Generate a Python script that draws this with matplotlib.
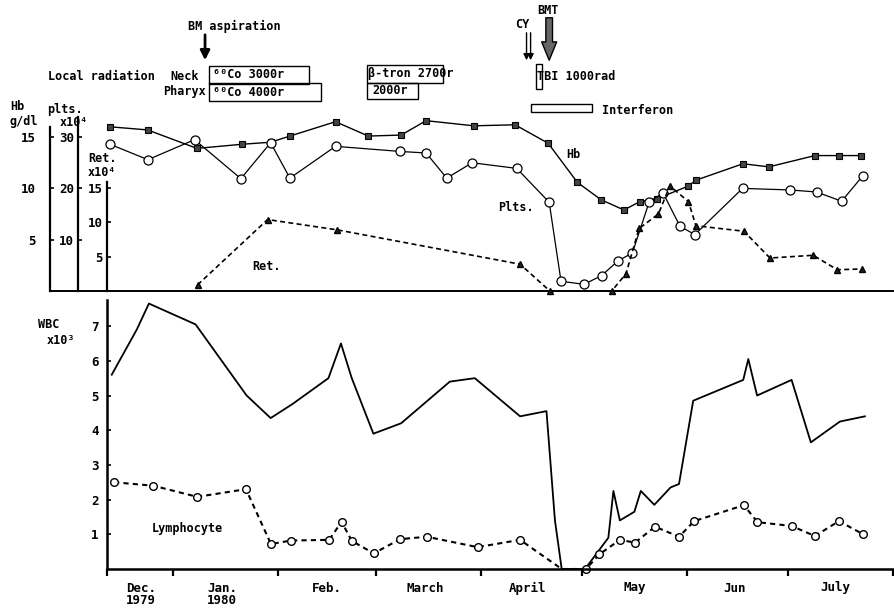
"""Clinical course chart: Hb / platelets / reticulocytes (top) and WBC / lymphocytes (bottom)."""

import matplotlib

matplotlib.use("Agg")
import matplotlib.pyplot as plt  # noqa: E402
from matplotlib.patches import Rectangle  # noqa: E402
from matplotlib.transforms import blended_transform_factory  # noqa: E402

# x values are days counted from 1 Jan 1980 (negative = Dec 1979)
HB_DAYS = [-18.5, -7.5, 7.1, 20.4, 28.9, 34.6, 48.1, 57.8, 67.5, 74.9, 89.0, 101.2, 111.0,
           119.6, 126.6, 133.4, 138.1, 143.2, 152.3, 154.7, 168.6, 176.3, 189.9, 197.0, 203.5]
HB = [16.0, 15.7, 13.9, 14.3, 14.5, 15.1, 16.5, 15.1, 15.2, 16.6, 16.1, 16.2, 14.4,
      10.6, 8.9, 7.9, 8.7, 9.0, 10.2, 10.8, 12.4, 12.1, 13.2, 13.2, 13.2]

PLT_DAYS = [-18.6, -7.4, 6.4, 20.1, 28.9, 34.6, 48.1, 67.3, 74.9, 81.0, 88.5, 101.7, 111.3,
            114.8, 121.6, 126.8, 131.7, 135.9, 140.9, 145.0, 150.0, 154.4, 168.5, 182.5,
            190.4, 197.8, 204.0]
PLTS = [28.6, 25.6, 29.5, 21.9, 28.9, 22.0, 28.2, 27.2, 26.9, 22.0, 25.0, 23.9, 17.3,
        1.9, 1.3, 3.0, 5.9, 7.4, 17.4, 19.1, 12.6, 11.0, 20.0, 19.7, 19.3, 17.5, 22.4]

RET_DAYS = [7.3, 28.0, 48.6, 102.7, 111.5, 129.8, 134.0, 137.9, 143.6, 147.0, 152.5, 154.7,
            168.9, 176.6, 189.4, 196.5, 203.7]
RET = [0.9, 10.4, 8.9, 3.9, 0.0, 0.0, 2.5, 9.1, 11.2, 15.3, 13.0, 9.5, 8.7, 4.8, 5.2, 3.1, 3.2]

WBC_DAYS = [-18.1, -10.7, -7.1, 6.7, 21.8, 28.9, 35.3, 46.0, 49.7, 52.9, 59.3, 67.5, 81.9,
            89.3, 102.7, 110.5, 113.0, 115.0, 121.9, 128.8, 130.3, 132.2, 136.5, 138.4,
            142.4, 147.2, 149.7, 153.9, 168.7, 170.2, 172.8, 183.0, 188.7, 197.3, 204.7]
WBC = [5.6, 6.9, 7.65, 7.05, 5.0, 4.35, 4.75, 5.5, 6.5, 5.5, 3.9, 4.2, 5.4, 5.5, 4.4, 4.55,
       1.4, 0.0, 0.0, 0.9, 2.25, 1.4, 1.65, 2.25, 1.85, 2.35, 2.45, 4.85, 5.45, 6.05, 5.0,
       5.45, 3.65, 4.25, 4.4]

LYM_DAYS = [-17.4, -5.8, 7.2, 21.6, 29.0, 34.9, 46.2, 49.9, 52.9, 59.4, 67.2, 75.1, 90.1,
            102.7, 115.0, 122.2, 126.1, 132.2, 136.7, 142.6, 149.7, 154.2, 168.9, 172.9,
            183.0, 189.9, 197.0, 204.2]
LYM = [2.5, 2.4, 2.08, 2.3, 0.72, 0.82, 0.84, 1.36, 0.81, 0.45, 0.86, 0.93, 0.63, 0.84,
       0.0, 0.0, 0.42, 0.84, 0.76, 1.22, 0.93, 1.38, 1.84, 1.35, 1.24, 0.95, 1.38, 1.0]
LYM_NO_MARK = [14]

MONTH_STARTS = [0, 31, 60, 91, 121, 152, 182, 213]
MONTH_MIDS = [-9.5, 14.5, 45.5, 74.5, 105, 136.5, 166, 196]
MONTH_LABELS = ["Dec.\n1979", "Jan.\n1980", "Feb.", "March", "April", "May", "Jun", "July"]

# treatment spans in days
NECK = (10.7, 40.2)
PHARYX = (10.7, 43.7)
BTRON = (57.4, 79.9)
BTRON2 = (57.4, 72.5)
TBI = (107.4, 109.3)
INTERFERON = (105.8, 123.9)
BM_DAY = 9.5
CY_DAYS = [104.6, 105.8]
BMT_DAY = 111.3

XMIN, XMAX = -19.5, 213
W, H = 894, 608
PT = 72 / 100  # points per pixel
FONT = dict(family="DejaVu Sans Mono", fontweight="bold", fontsize=8.5)


def fy(py):
    return 1 - py / H


def fx(px):
    return px / W


fig = plt.figure(figsize=(W / 100, H / 100), dpi=100)
fig.patch.set_facecolor("white")

# ---------------- top panel ----------------
ax_hb = fig.add_axes([fx(107), fy(291), fx(786), 180 / H])
ax_pl = ax_hb.twinx()
ax_rt = ax_hb.twinx()

ax_hb.set_ylim(0, 180 / 10.26)
ax_pl.set_ylim(0, 180 / 5.13)
ax_rt.set_ylim(0, 180 / 6.87)
ax_hb.set_xlim(XMIN, XMAX)

for a, off, bound, ticks, pad in [
    (ax_hb, 57, 16.0, [5, 10, 15], 14),
    (ax_pl, 29, 33.9, [10, 20, 30], 4),
    (ax_rt, 0, 15.9, [5, 10, 15], 4),
]:
    for s in a.spines.values():
        s.set_visible(False)
    sp = a.spines["left"]
    sp.set_visible(True)
    sp.set_position(("outward", off * PT))
    sp.set_bounds(0, bound)
    sp.set_linewidth(1.6)
    a.yaxis.set_ticks_position("left")
    a.set_yticks(ticks)
    a.tick_params(axis="y", direction="in", length=3, width=1.2, pad=pad * PT)
    a.set_xticks([])
    for lab in a.get_yticklabels():
        lab.set_fontfamily("DejaVu Sans Mono")
        lab.set_fontweight("bold")
        lab.set_fontsize(9)
ax_hb.plot([-57 / 786, 1], [0, 0], color="black", lw=1.4, transform=ax_hb.transAxes,
           clip_on=False)

ax_hb.plot(HB_DAYS, HB, color="black", lw=1.0, marker="s", ms=4.8, mfc="#444444",
           mec="black", mew=0.8, clip_on=False, zorder=3)
ax_pl.plot(PLT_DAYS, PLTS, color="black", lw=0.9, marker="o", ms=6.5, mfc="white",
           mec="black", mew=0.9, clip_on=False, zorder=3)
ax_rt.plot(RET_DAYS, RET, color="black", lw=1.2, ls=(0, (3, 2)), marker="^", ms=4.5,
           mfc="#222222", mec="black", clip_on=False, zorder=2)

ax_hb.text(118.6, 13.3, "Hb", va="center", ha="center", **FONT)
ax_hb.text(96.1, 8.1, "Plts.", va="center", ha="left", **FONT)
ax_hb.text(23.4, 2.4, "Ret.", va="center", ha="left", **FONT)

fig.text(fx(10), fy(107), "Hb", va="center", **FONT)
fig.text(fx(10), fy(122), "g/dl", va="center", **FONT)
fig.text(fx(47), fy(110), "plts.", va="center", **FONT)
fig.text(fx(60), fy(123), "x10⁴", va="center", **FONT)
fig.text(fx(88), fy(159), "Ret.", va="center", **FONT)
fig.text(fx(88), fy(173), "x10⁴", va="center", **FONT)

# treatment annotations above the panel
tr = blended_transform_factory(ax_hb.transData, fig.transFigure)


def box(span, y0, y1):
    r = Rectangle((span[0], fy(y1)), span[1] - span[0], fy(y0) - fy(y1), transform=tr,
                  fill=False, edgecolor="black", lw=1.0, clip_on=False)
    fig.add_artist(r)


box(NECK, 66.5, 83.5)
box(PHARYX, 83.5, 100.5)
box(BTRON, 65, 83)
box(BTRON2, 83, 99)
box(TBI, 64, 89)
box(INTERFERON, 104, 112)

fig.text(fx(48), fy(76), "Local radiation", va="center", **FONT)
fig.text(fx(170), fy(76), "Neck", va="center", **FONT)
fig.text(fx(163), fy(91), "Pharyx", va="center", **FONT)
fig.text(NECK[0] + 1.2, fy(75), "⁶⁰Co 3000r", transform=tr, va="center", **FONT)
fig.text(PHARYX[0] + 1.2, fy(92), "⁶⁰Co 4000r", transform=tr, va="center", **FONT)
fig.text(BTRON[0] + 0.3, fy(74), "β-tron 2700r", transform=tr, va="center", **FONT)
fig.text(BTRON2[0] + 1.5, fy(91), "2000r", transform=tr, va="center", **FONT)
fig.text(TBI[0] + 0.4, fy(76), "TBI 1000rad", transform=tr, va="center", **FONT)
fig.text(INTERFERON[1] + 3, fy(111), "Interferon", transform=tr, va="center", **FONT)
fig.text(BM_DAY - 5, fy(26), "BM aspiration", transform=tr, va="center", **FONT)
fig.text(CY_DAYS[0] - 3.4, fy(25), "CY", transform=tr, va="center", **FONT)
fig.text(BMT_DAY - 3.6, fy(10), "BMT", transform=tr, va="center", **FONT)

ax_hb.annotate("", xy=(BM_DAY, fy(63)), xytext=(BM_DAY, fy(32)), xycoords=tr,
               textcoords=tr, annotation_clip=False,
               arrowprops=dict(arrowstyle="-|>", lw=2.0, color="black", mutation_scale=14))
for d in CY_DAYS:
    ax_hb.annotate("", xy=(d, fy(63)), xytext=(d, fy(30)), xycoords=tr, textcoords=tr,
                   annotation_clip=False,
                   arrowprops=dict(arrowstyle="-|>", lw=1.0, color="black",
                                   mutation_scale=9))
ax_hb.annotate("", xy=(BMT_DAY, fy(63)), xytext=(BMT_DAY, fy(15)), xycoords=tr,
               textcoords=tr, annotation_clip=False,
               arrowprops=dict(arrowstyle="simple,head_width=0.9,head_length=1.1,tail_width=0.4",
                               fc="#666666", ec="black", lw=1.0, mutation_scale=12))

# ---------------- bottom panel ----------------
ax_w = fig.add_axes([fx(107), fy(569), fx(786), (569 - 300.1) / H])
ax_w.set_xlim(XMIN, XMAX)
ax_w.set_ylim(0, 7.75)
for s in ["top", "right"]:
    ax_w.spines[s].set_visible(False)
for s in ["left", "bottom"]:
    ax_w.spines[s].set_linewidth(1.8)

ax_w.plot(WBC_DAYS, WBC, color="black", lw=1.3, clip_on=False)
keep = [i for i in range(len(LYM)) if i not in LYM_NO_MARK]
ax_w.plot(LYM_DAYS, LYM, color="black", lw=1.5, ls=(0, (2.5, 2)), marker="o", ms=5.5,
          mfc="white", mec="black", mew=1.0, markevery=keep, clip_on=False)
ax_w.text(-6.2, 1.18, "Lymphocyte", va="center", ha="left", **FONT)

ax_w.set_yticks(range(1, 8))
ax_w.tick_params(axis="y", direction="in", length=3, width=1.2, pad=6)
ax_w.set_xticks([XMIN] + MONTH_STARTS)
ax_w.set_xticklabels([""] * (len(MONTH_STARTS) + 1))
ax_w.tick_params(axis="x", which="major", direction="out", length=5, width=1.6)
ax_w.set_xticks(MONTH_MIDS, minor=True)
ax_w.set_xticklabels(MONTH_LABELS, minor=True, linespacing=1.0)
ax_w.tick_params(axis="x", which="minor", length=0, pad=9)
for lab in ax_w.get_yticklabels() + ax_w.get_xticklabels(minor=True):
    lab.set_fontfamily("DejaVu Sans Mono")
    lab.set_fontweight("bold")
    lab.set_fontsize(9)

fig.text(fx(38), fy(325), "WBC", va="center", **FONT)
fig.text(fx(47), fy(340), "x10³", va="center", **FONT)

fig.savefig("out.png", dpi=100, facecolor="white")
